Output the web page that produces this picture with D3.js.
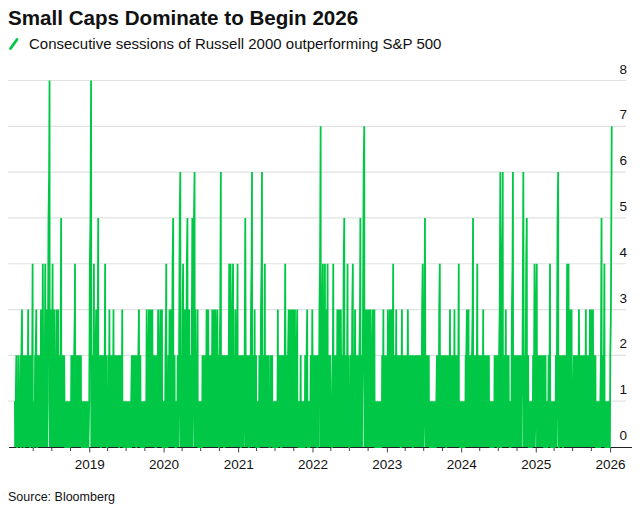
<!DOCTYPE html>
<html><head><meta charset="utf-8">
<script src="https://cdn.jsdelivr.net/npm/d3@7"></script>
<style>
body{margin:0;background:#fff}
svg{display:block}
text{font-family:"Liberation Sans",Arial,Helvetica,sans-serif;fill:#111}
</style>
</head><body>
<svg id="chart" width="642" height="516"></svg>
<script>
// ---- text ----
const titleText = "Small Caps Dominate to Begin 2026";
const legendText = "Consecutive sessions of Russell 2000 outperforming S&P 500";
const sourceText = "Source: Bloomberg";
const yTicks = [0, 1, 2, 3, 4, 5, 6, 7, 8];
const yearTicks = [2019, 2020, 2021, 2022, 2023, 2024, 2025, 2026];

// ---- data: streaks, one string per quarter ----
// each digit k = a streak of k outperforming sessions (counter 1..k) followed by a reset session (0);
// a digit 0 = an extra reset session.
const streaks2018 = ["112101211203121021213210214", "101231021213142413831", "41323132152122101101101101", "121214212212121011011011011010"];
const streaks2019 = ["81242315212021214210", "123121231221212021231101101", "101101101102121212021312101101101", "113231323121202132313101"];
const streaks2020 = ["101410123135121010121612", "42315232156323101101", "101212123132121332313120", "61212021212442412314"];
const streaks2021 = ["121202121512120216213120", "1011021621412122101212101101", "1010312120212141213231313", "3231101102100010101213101101213"];
const streaks2022 = ["121212021714243412121", "1041212323131251214210", "12141231212151272313", "3132313101101101101101231212"];
const streaks2023 = ["13132341213121212032121", "1213121212021212121212141", "5212121011011011011012124121", "2121202121312121312124101"];
const streaks2024 = ["10110110123132121512124121", "21213121212121101101101212120", "16061213121210101612121", "212121261251210110110124"];
const streaks2025 = ["41212121212012101012410101101", "10126102121202121443231", "121212123121212123121231", "332121011011010512410110110110"];
const streaks2026 = ["7"];

const years = [[2018, streaks2018], [2019, streaks2019], [2020, streaks2020], [2021, streaks2021],
               [2022, streaks2022], [2023, streaks2023], [2024, streaks2024], [2025, streaks2025], [2026, streaks2026]];

function nextWeekday(d) {
  const n = new Date(d);
  while (n.getDay() === 0 || n.getDay() === 6) n.setDate(n.getDate() + 1);
  return n;
}
const data = [];
let last = null;
years.forEach(([yr, qs]) => {
  qs.forEach((s, qi) => {
    let d = nextWeekday(new Date(yr, qi * 3, 1));
    if (last && d <= last) { d = new Date(last); d.setDate(d.getDate() + 1); d = nextWeekday(d); }
    const vals = [];
    for (const ch of s) { const k = +ch; for (let i = 1; i <= k; i++) vals.push(i); vals.push(0); }
    vals.forEach(v => {
      data.push({ date: new Date(d), value: v });
      last = new Date(d);
      d.setDate(d.getDate() + 1);
      d = nextWeekday(d);
    });
  });
});
if (data[data.length - 1].value === 0) data.pop();

// ---- drawing ----
const svg = d3.select("#chart");
const green = "#00c846";
const x = d3.scaleTime().domain([new Date(2018, 0, 1), new Date(2026, 0, 1)]).range([14.9, 610.1]);
const y = d3.scaleLinear().domain([0, 8]).range([447, 80.5]);

// title
svg.append("text").attr("x", 8).attr("y", 25)
  .style("font-size", "20.6px").style("font-weight", "700")
  .text(titleText);

// legend
svg.append("line").attr("x1", 10.5).attr("y1", 48.5).attr("x2", 17).attr("y2", 39.5)
  .attr("stroke", green).attr("stroke-width", 2.8).attr("stroke-linecap", "round");
svg.append("text").attr("x", 29).attr("y", 48.5).style("font-size", "15px").text(legendText);

// gridlines + y labels
const grid = svg.append("g");
yTicks.filter(v => v > 0).forEach(v => {
  grid.append("line").attr("x1", 8).attr("x2", 626).attr("y1", y(v)).attr("y2", y(v))
    .attr("stroke", "#e2e2e2").attr("stroke-width", 1.2);
});
yTicks.forEach(v => {
  svg.append("text").attr("x", 627).attr("y", y(v) - 7).attr("text-anchor", "end")
    .style("font-size", "13.5px").text(v);
});

// x axis
svg.append("line").attr("x1", 9).attr("x2", 632).attr("y1", 447.5).attr("y2", 447.5)
  .attr("stroke", "#222").attr("stroke-width", 1);
const minor = d3.timeMonth.every(3).range(new Date(2018, 3, 1), new Date(2026, 0, 2))
  .filter(d => d.getMonth() !== 0);
svg.append("g").selectAll("line").data(minor).join("line")
  .attr("x1", d => x(d)).attr("x2", d => x(d)).attr("y1", 447.5).attr("y2", 451)
  .attr("stroke", "#444").attr("stroke-width", 1);
const xAxis = d3.axisBottom(x)
  .tickValues(yearTicks.map(yr => new Date(yr, 0, 1)))
  .tickFormat(d3.timeFormat("%Y")).tickSize(5).tickPadding(7);
const gx = svg.append("g").attr("transform", "translate(0,447.5)").call(xAxis);
gx.select(".domain").remove();
gx.selectAll(".tick line").attr("stroke", "#444");
gx.selectAll(".tick text").style("font-size", "13.5px").attr("fill", "#111")
  .style("font-family", "'Liberation Sans',Arial,sans-serif");

// series
const line = d3.line().x(d => x(d.date)).y(d => y(d.value));
svg.append("path").datum(data).attr("d", line)
  .attr("fill", "none").attr("stroke", green).attr("stroke-width", 1.8);

// source
svg.append("text").attr("x", 8).attr("y", 501).style("font-size", "12.5px").text(sourceText);
</script>
</body></html>
